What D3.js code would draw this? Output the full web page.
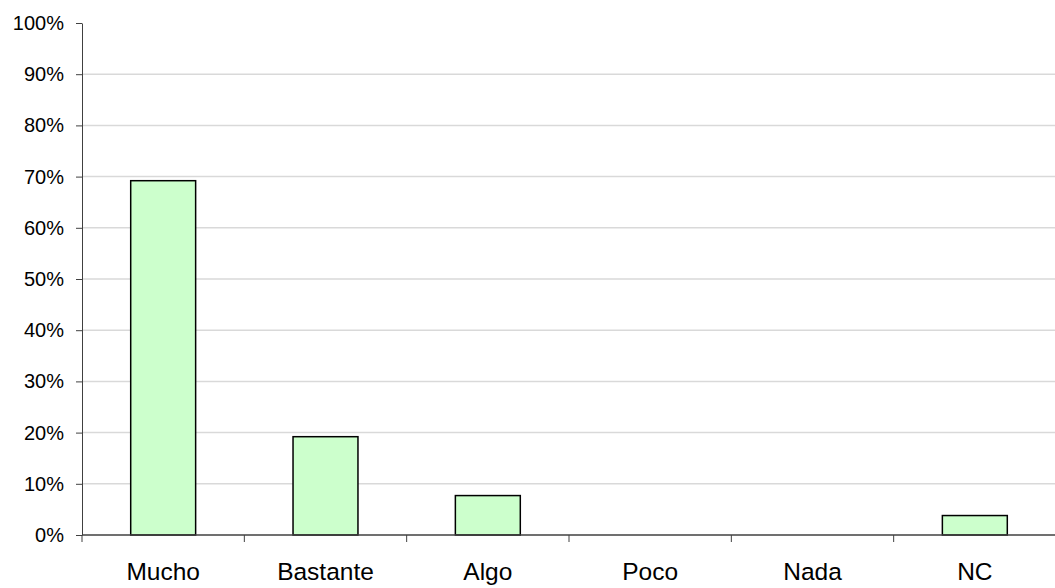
<!DOCTYPE html>
<html>
<head>
<meta charset="utf-8">
<script src="https://cdn.jsdelivr.net/npm/d3@7"></script>
<style>
  body { margin: 0; background: #fff; }
  svg { display: block; }
  text { font-family: "Liberation Sans", Arial, sans-serif; fill: #000; }
</style>
</head>
<body>
<svg id="chart" width="1055" height="588"></svg>
<script>
const categories = ["Mucho", "Bastante", "Algo", "Poco", "Nada", "NC"];
const values = [69.2, 19.2, 7.7, 0, 0, 3.8];
const yTicks = [0, 10, 20, 30, 40, 50, 60, 70, 80, 90, 100];

(function () {
const svg = d3.select("#chart");
const mLeft = 82, mRight = 1056, mTop = 23, mBottom = 535;

const x = d3.scaleBand().domain(categories).range([mLeft, mRight])
  .paddingInner(0.6).paddingOuter(0.3);
const y = d3.scaleLinear().domain([0, 100]).range([mBottom, mTop]);

// gridlines
svg.append("g").selectAll("line")
  .data(yTicks.filter(t => t > 0 && t < 100))
  .join("line")
  .attr("x1", mLeft).attr("x2", mRight)
  .attr("y1", d => y(d)).attr("y2", d => y(d))
  .attr("stroke", "#d9d9d9").attr("stroke-width", 1.5);

// bars
svg.append("g").selectAll("rect")
  .data(categories.map((c, i) => ({c, v: values[i]})).filter(d => d.v > 0))
  .join("rect")
  .attr("x", d => x(d.c))
  .attr("y", d => y(d.v))
  .attr("width", x.bandwidth())
  .attr("height", d => y(0) - y(d.v))
  .attr("fill", "#ccffcc")
  .attr("stroke", "#000")
  .attr("stroke-width", 1.5);

// y axis
const yAxis = d3.axisLeft(y).tickValues(yTicks).tickFormat(d => d + "%")
  .tickSizeInner(6).tickSizeOuter(0).tickPadding(12);
const gy = svg.append("g").attr("transform", `translate(${mLeft},0)`).call(yAxis);
gy.select(".domain").attr("stroke", "#404040").attr("stroke-width", 1);
gy.selectAll(".tick line").attr("stroke", "#404040");
gy.selectAll(".tick text").attr("font-size", 20).attr("font-family", '"Liberation Sans", Arial, sans-serif').attr("fill", "#000");

// x axis
const boundaries = d3.range(categories.length + 1).map(i => mLeft + i * (mRight - mLeft) / categories.length);
const gx = svg.append("g");
gx.append("line").attr("x1", mLeft).attr("x2", mRight).attr("y1", mBottom).attr("y2", mBottom)
  .attr("stroke", "#404040").attr("stroke-width", 1.5);
gx.selectAll("line.tk").data(boundaries).join("line").attr("class", "tk")
  .attr("x1", d => d).attr("x2", d => d).attr("y1", mBottom).attr("y2", mBottom + 7)
  .attr("stroke", "#404040");
gx.selectAll("text").data(categories).join("text")
  .attr("x", d => x(d) + x.bandwidth() / 2)
  .attr("y", 580)
  .attr("text-anchor", "middle")
  .attr("font-size", 24.5)
  .text(d => d);
})();
</script>
</body>
</html>
